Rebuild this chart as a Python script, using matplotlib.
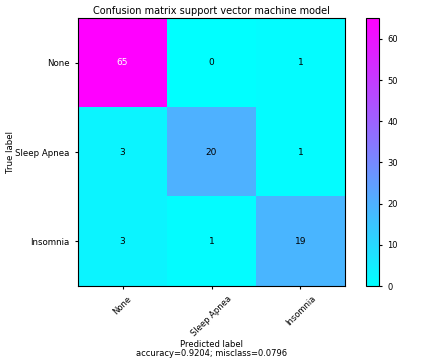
import matplotlib
matplotlib.use("Agg")
import numpy as np
import matplotlib.pyplot as plt

# - data
classes = ["None", "Sleep Apnea", "Insomnia"]
row_none = [65, 0, 1]
row_apnea = [3, 20, 1]
row_insomnia = [3, 1, 19]
accuracy = 0.9204
misclass = 0.0796

cm = np.array([row_none, row_apnea, row_insomnia])

# - plot
fig = plt.figure(figsize=(4.32, 3.58), dpi=100)
ax = fig.add_axes([0.1806, 0.201, 0.618, 0.748])
cax = fig.add_axes([0.847, 0.201, 0.030, 0.748])

im = ax.imshow(cm, interpolation="nearest", cmap="cool", aspect="auto")
ax.set_title("Confusion matrix support vector machine model", fontsize=7, pad=3)
cb = fig.colorbar(im, cax=cax)
cb.ax.tick_params(labelsize=6, length=2.5)

ticks = np.arange(len(classes))
ax.set_xticks(ticks)
ax.set_xticklabels(classes, rotation=45, fontsize=6)
ax.set_yticks(ticks)
ax.set_yticklabels(classes, fontsize=6.2)
ax.tick_params(length=2.5)

thresh = cm.max() / 1.5
for i in range(cm.shape[0]):
    for j in range(cm.shape[1]):
        ax.text(j, i, "{:,}".format(cm[i, j]), ha="center", va="center", fontsize=6.5,
                color="white" if cm[i, j] > thresh else "black")

ax.set_ylabel("True label", fontsize=6.2)
ax.yaxis.set_label_coords(-0.235, 0.5)
ax.set_xlabel("Predicted label\naccuracy={:0.4f}; misclass={:0.4f}".format(accuracy, misclass),
              fontsize=6, labelpad=1, linespacing=1.0)

plt.savefig("out.png", dpi=100)
